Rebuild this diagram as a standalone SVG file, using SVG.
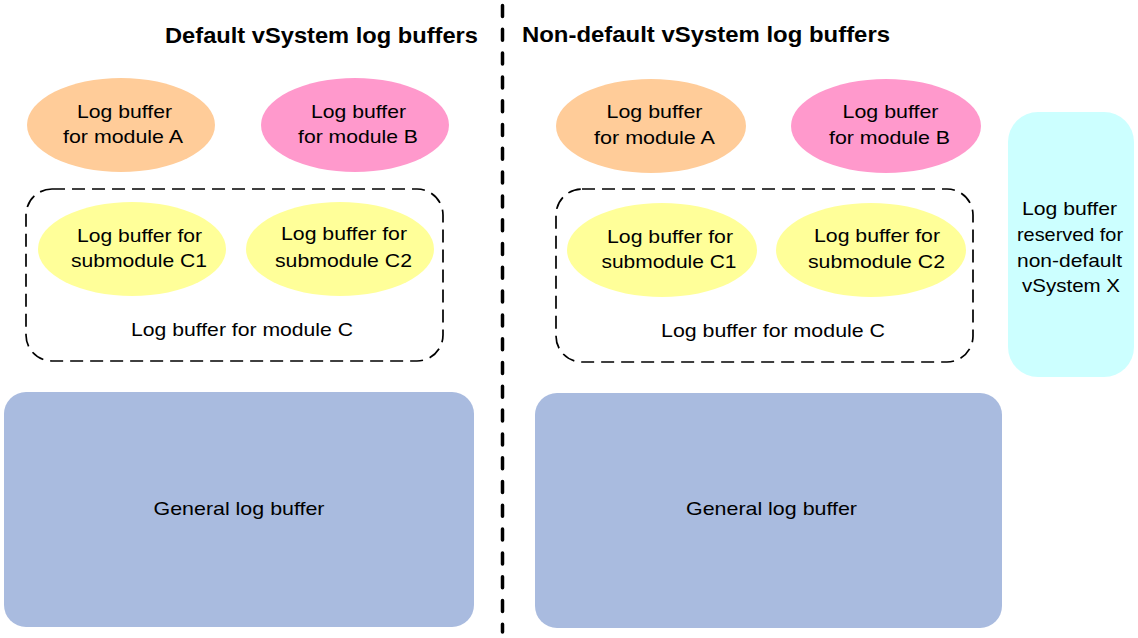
<svg xmlns="http://www.w3.org/2000/svg" width="1138" height="638" viewBox="0 0 1138 638">
<style>
text{font-family:"Liberation Sans",Arial,sans-serif;font-size:19px;fill:#000;text-anchor:middle}
.title{font-size:21.5px;font-weight:bold;text-anchor:start}
.a{fill:#FFCC99}
.b{fill:#FF99CC}
.c{fill:#FFFF99}
.gen{fill:#A9BBDF}
.res{fill:#CCFFFF}
.grp{fill:none;stroke:#000;stroke-width:1.7;stroke-dasharray:13 7}
</style>
<rect width="1138" height="638" fill="#fff"/>
<g id="titles">
<text class="title" x="165" y="43" textLength="313" lengthAdjust="spacingAndGlyphs">Default vSystem log buffers</text>
<text class="title" x="522" y="42" textLength="368" lengthAdjust="spacingAndGlyphs">Non-default vSystem log buffers</text>
</g>
<g id="connectors">
<line x1="502.5" y1="5.5" x2="502.5" y2="632" stroke="#000" stroke-width="3.5" stroke-linecap="round" stroke-dasharray="11 12.8"/>
</g>
<g id="left-module-c">
<rect class="grp" x="26" y="189" width="417" height="172" rx="26"/>
<text x="242" y="336" textLength="222" lengthAdjust="spacingAndGlyphs">Log buffer for module C</text>
</g>
<g id="left-module-a">
<ellipse class="a" cx="121" cy="125" rx="94" ry="47"/>
<text x="124.5" y="118" textLength="95" lengthAdjust="spacingAndGlyphs">Log buffer</text>
<text x="123" y="143" textLength="120" lengthAdjust="spacingAndGlyphs">for module A</text>
</g>
<g id="left-module-b">
<ellipse class="b" cx="355" cy="125" rx="94" ry="47"/>
<text x="358.5" y="118" textLength="95" lengthAdjust="spacingAndGlyphs">Log buffer</text>
<text x="358" y="143" textLength="120" lengthAdjust="spacingAndGlyphs">for module B</text>
</g>
<g id="left-submodule-c1">
<ellipse class="c" cx="132" cy="249" rx="94" ry="47"/>
<text x="139.5" y="242" textLength="125" lengthAdjust="spacingAndGlyphs">Log buffer for</text>
<text x="139" y="267" textLength="136" lengthAdjust="spacingAndGlyphs">submodule C1</text>
</g>
<g id="left-submodule-c2">
<ellipse class="c" cx="340" cy="249" rx="94" ry="47"/>
<text x="344" y="240" textLength="126" lengthAdjust="spacingAndGlyphs">Log buffer for</text>
<text x="343.5" y="267" textLength="137" lengthAdjust="spacingAndGlyphs">submodule C2</text>
</g>
<g id="left-general">
<rect class="gen" x="4" y="392" width="470" height="235" rx="22"/>
<text x="239" y="515" textLength="171" lengthAdjust="spacingAndGlyphs">General log buffer</text>
</g>
<g id="right-module-c">
<rect class="grp" x="556" y="189" width="417" height="173" rx="26"/>
<text x="773" y="337" textLength="224" lengthAdjust="spacingAndGlyphs">Log buffer for module C</text>
</g>
<g id="right-module-a">
<ellipse class="a" cx="651" cy="126" rx="95" ry="47"/>
<text x="654.5" y="118" textLength="96" lengthAdjust="spacingAndGlyphs">Log buffer</text>
<text x="654.5" y="144" textLength="121" lengthAdjust="spacingAndGlyphs">for module A</text>
</g>
<g id="right-module-b">
<ellipse class="b" cx="886" cy="126" rx="95" ry="47"/>
<text x="890.5" y="118" textLength="96" lengthAdjust="spacingAndGlyphs">Log buffer</text>
<text x="889.5" y="144" textLength="121" lengthAdjust="spacingAndGlyphs">for module B</text>
</g>
<g id="right-submodule-c1">
<ellipse class="c" cx="662" cy="250" rx="95" ry="47"/>
<text x="670" y="243" textLength="126" lengthAdjust="spacingAndGlyphs">Log buffer for</text>
<text x="669" y="268" textLength="135" lengthAdjust="spacingAndGlyphs">submodule C1</text>
</g>
<g id="right-submodule-c2">
<ellipse class="c" cx="871" cy="250" rx="95" ry="47"/>
<text x="877" y="242" textLength="126" lengthAdjust="spacingAndGlyphs">Log buffer for</text>
<text x="876.5" y="268" textLength="137" lengthAdjust="spacingAndGlyphs">submodule C2</text>
</g>
<g id="right-general">
<rect class="gen" x="535" y="393" width="467" height="235" rx="22"/>
<text x="771.5" y="515" textLength="171" lengthAdjust="spacingAndGlyphs">General log buffer</text>
</g>
<g id="reserved-x">
<rect class="res" x="1008" y="112" width="126" height="265" rx="30"/>
<text x="1069.5" y="215" textLength="95" lengthAdjust="spacingAndGlyphs">Log buffer</text>
<text x="1070" y="241" textLength="106" lengthAdjust="spacingAndGlyphs">reserved for</text>
<text x="1069.5" y="267" textLength="105" lengthAdjust="spacingAndGlyphs">non-default</text>
<text x="1071" y="292" textLength="98" lengthAdjust="spacingAndGlyphs">vSystem X</text>
</g>
</svg>
